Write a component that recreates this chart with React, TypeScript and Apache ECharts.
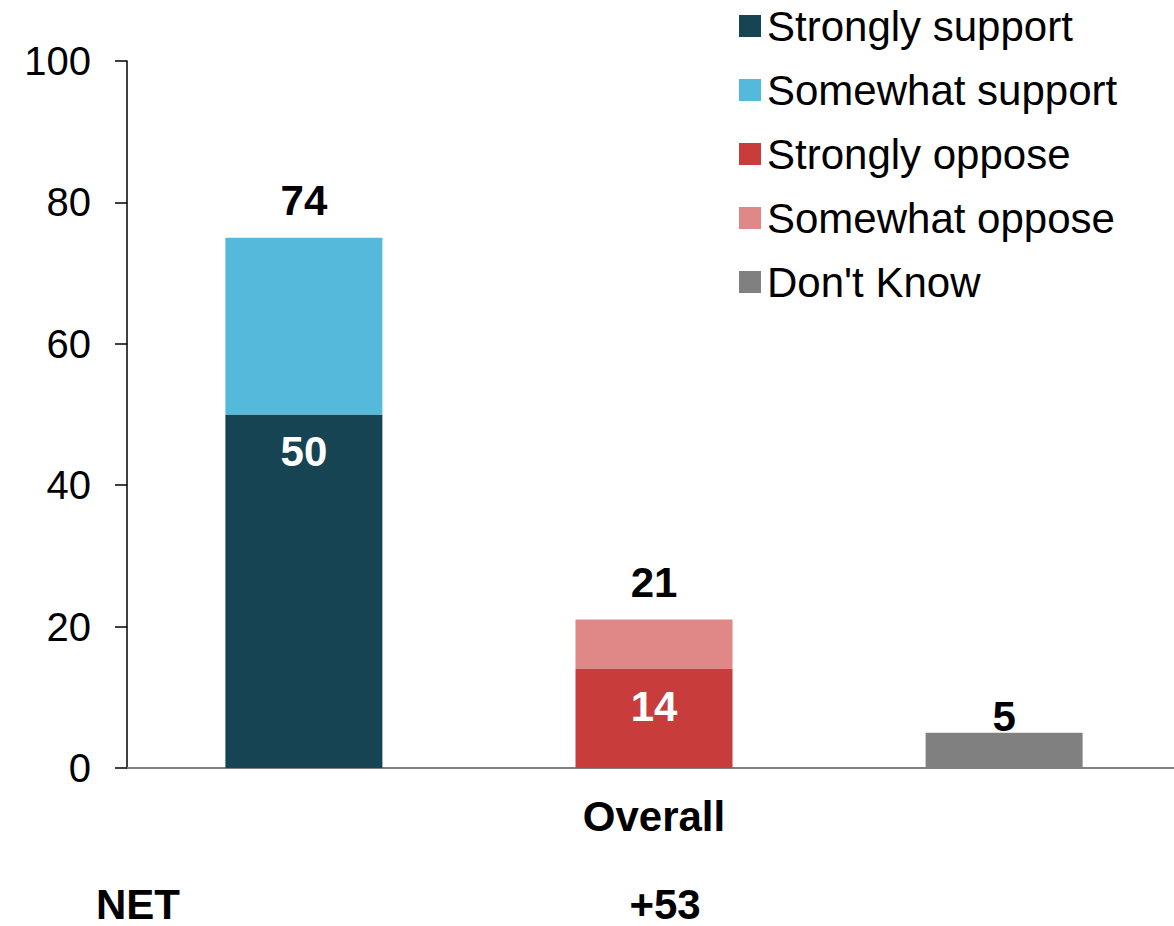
import React, { useEffect, useRef } from "react";
import * as echarts from "echarts";

const categories = ["Overall"];
const stronglySupport = [50];
const somewhatSupport = [25];
const stronglyOppose = [14];
const somewhatOppose = [7];
const dontKnow = [5];
const supportTotals = [74];
const opposeTotals = [21];
const netLabel = "NET";
const netValues = ["+53"];
const yTicks = { min: 0, max: 100, interval: 20 };

const FONT = "'Liberation Sans', Arial, sans-serif";

export default function App() {
  const ref = useRef<HTMLDivElement>(null);
  useEffect(() => {
    if (!ref.current) return;
    const chart = echarts.init(ref.current, null, { renderer: "svg" });
    const topLabel = (arr: number[], distance: number) => ({
      show: true,
      position: "top",
      distance,
      formatter: (p: any) => String(arr[p.dataIndex]),
      color: "#000",
      fontWeight: "bold",
      fontSize: 42,
      fontFamily: FONT,
    });
    const insideLabel = {
      show: true,
      position: "insideTop",
      distance: 16,
      color: "#fff",
      fontWeight: "bold",
      fontSize: 42,
      fontFamily: FONT,
    };
    chart.setOption({
      animation: false,
      textStyle: { fontFamily: FONT },
      grid: { left: 127, right: 0, top: 61, bottom: 158, containLabel: false },
      legend: {
        orient: "vertical",
        left: 734,
        top: 0,
        itemWidth: 22,
        itemHeight: 22,
        itemGap: 22,
        icon: "rect",
        textStyle: { fontSize: 42, color: "#000", fontFamily: FONT, lineHeight: 42, padding: [0, 0, 0, 1] },
        data: ["Strongly support", "Somewhat support", "Strongly oppose", "Somewhat oppose", "Don't Know"],
      },
      xAxis: {
        type: "category",
        data: categories,
        axisLine: { show: true, lineStyle: { color: "#808080", width: 2 } },
        axisTick: { show: false },
        axisLabel: { color: "#000", fontSize: 42, fontWeight: "bold", margin: 27, fontFamily: FONT },
      },
      yAxis: {
        type: "value",
        min: yTicks.min,
        max: yTicks.max,
        interval: yTicks.interval,
        axisLine: { show: true, lineStyle: { color: "#000", width: 1.5 } },
        axisTick: { show: true, length: 12, lineStyle: { color: "#000", width: 1.5 } },
        splitLine: { show: false },
        axisLabel: { color: "#000", fontSize: 40, margin: 36, fontFamily: FONT },
      },
      series: [
        {
          name: "Strongly support",
          type: "bar",
          stack: "support",
          data: stronglySupport,
          barWidth: 157,
          barGap: "123%",
          itemStyle: { color: "#164452" },
          label: insideLabel,
        },
        {
          name: "Somewhat support",
          type: "bar",
          stack: "support",
          data: somewhatSupport,
          barWidth: 157,
          barGap: "123%",
          itemStyle: { color: "#55B9DC" },
          label: topLabel(supportTotals, 16),
        },
        {
          name: "Strongly oppose",
          type: "bar",
          stack: "oppose",
          data: stronglyOppose,
          barWidth: 157,
          barGap: "123%",
          itemStyle: { color: "#C83C3C" },
          label: insideLabel,
        },
        {
          name: "Somewhat oppose",
          type: "bar",
          stack: "oppose",
          data: somewhatOppose,
          barWidth: 157,
          barGap: "123%",
          itemStyle: { color: "#E08887" },
          label: topLabel(opposeTotals, 16),
        },
        {
          name: "Don't Know",
          type: "bar",
          stack: "dk",
          data: dontKnow,
          barWidth: 157,
          barGap: "123%",
          itemStyle: { color: "#808080" },
          label: topLabel(dontKnow, -5),
        },
      ],
      graphic: [
        {
          type: "text",
          x: 138,
          y: 904,
          style: {
            text: netLabel,
            font: `bold 42px ${FONT}`,
            fill: "#000",
            align: "center",
            verticalAlign: "middle",
            lineHeight: 36,
          },
        },
        {
          type: "text",
          x: 665,
          y: 904,
          style: {
            text: netValues[0],
            font: `bold 42px ${FONT}`,
            fill: "#000",
            align: "center",
            verticalAlign: "middle",
            lineHeight: 36,
          },
        },
      ],
    });
    return () => chart.dispose();
  }, []);
  return (
    <div
      style={{ position: "absolute", left: 0, top: 0, width: 1174, height: 926, overflow: "hidden", background: "#fff" }}
    >
      <div ref={ref} style={{ width: 1181, height: 926 }} />
    </div>
  );
}
